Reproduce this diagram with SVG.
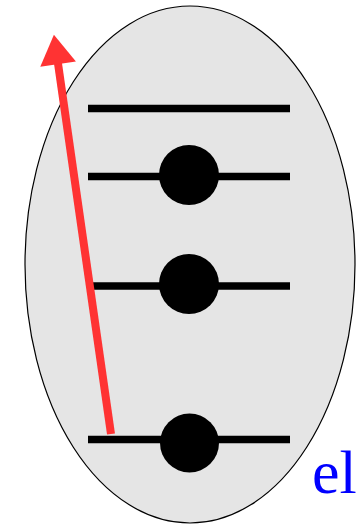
<svg xmlns="http://www.w3.org/2000/svg" width="357" height="525" viewBox="0 0 357 525">
<style>
.lvl{stroke:#000;stroke-width:7.5;fill:none}
.dot{fill:#000}
.lbl{font-family:"Liberation Serif","Times New Roman",serif;font-size:62px;fill:#0000ff}
</style>
<defs>
<marker id="ah" markerUnits="userSpaceOnUse" markerWidth="36" markerHeight="36" viewBox="0 0 28 34" refX="2" refY="17" orient="auto">
<path d="M0,0 L28,17 L0,34 Z" fill="#ff3333"/>
</marker>
</defs>
<g id="atom">
<ellipse cx="190" cy="264.5" rx="165" ry="258.5" fill="#e5e5e5" stroke="#000" stroke-width="1.2"/>
</g>
<g id="level1"><line class="lvl" x1="88" y1="108.5" x2="290" y2="108.5"/></g>
<g id="level2"><line class="lvl" x1="88" y1="176.5" x2="290" y2="176.5"/><circle class="dot" cx="189" cy="175" r="30"/></g>
<g id="level3"><line class="lvl" x1="88" y1="286" x2="290" y2="286"/><circle class="dot" cx="189" cy="284" r="30"/></g>
<g id="level4"><line class="lvl" x1="88" y1="439.5" x2="290" y2="439.5"/><circle class="dot" cx="189.5" cy="443" r="29.5"/></g>
<g id="connectors">
<line x1="111" y1="434" x2="57.8" y2="62" stroke="#ff3333" stroke-width="8" marker-end="url(#ah)"/>
</g>
<g id="label"><text class="lbl" x="312" y="493">el</text></g>
</svg>
